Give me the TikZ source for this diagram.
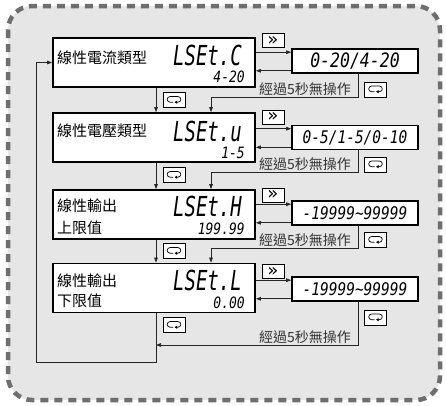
\documentclass[tikz,border=0pt]{standalone}
\usepackage{fontspec}
\newfontfamily\cjk{Noto Sans CJK TC}
\newfontfamily\segfont{DejaVu Sans Mono}
\newfontfamily\keyfont{DejaVu Sans}
\usetikzlibrary{arrows.meta}
\definecolor{panelgray}{HTML}{E6E6E6}
\definecolor{framegray}{HTML}{6E6E6E}
\newcommand{\tall}[2][1.2]{\scalebox{1}[#1]{#2}}
\newcommand{\retkey}{\tikz[x=1pt,y=1pt,line width=0.7pt,baseline=-3pt]{\draw[-{Triangle[length=2.6pt,width=3.2pt]}] (-1,-2.8) -- (-4,-2.8) arc[start angle=270,end angle=90,radius=2.8] -- (4,2.8) arc[start angle=90,end angle=-90,radius=2.8] -- (0.6,-2.8);}}
\newcommand{\nextkey}{\raisebox{-1.5pt}{\keyfont\fontsize{18}{18}\selectfont »}}
\tikzset{
  frame/.style={draw=framegray, line width=4.5pt, dash pattern=on 8pt off 6pt, fill=panelgray, rounded corners=24pt},
  modebox/.style={draw, line width=1.8pt, fill=white, minimum width=202pt, minimum height=49pt, inner sep=0pt},
  valbox/.style={draw, line width=1.6pt, fill=white, minimum width=126pt, minimum height=24pt, inner sep=0pt},
  keybox/.style={draw, line width=0.9pt, fill=white, minimum width=22pt, minimum height=15pt, inner sep=0pt},
  flow/.style={draw=black!85, line width=0.7pt},
  modetext/.style={font=\cjk\fontsize{15}{18}\selectfont, inner sep=0pt, anchor=west},
  idletext/.style={font=\cjk\fontsize{14}{16}\selectfont, inner sep=1pt, anchor=south east, text=black!80},
  lcd/.style={font=\segfont\itshape\fontsize{19}{19}\selectfont, inner sep=0pt, anchor=east},
  lcdsub/.style={font=\segfont\itshape\fontsize{13}{13}\selectfont, inner sep=0pt, anchor=east},
  lcdval/.style={font=\segfont\itshape\fontsize{14.5}{15}\selectfont, inner sep=0pt}
}
\begin{document}
\begin{tikzpicture}[x=1pt, y=-1pt, >={Triangle[length=5pt,width=3.6pt]}]
\useasboundingbox (0,0) rectangle (446,405);

%% panel
\draw[frame] (8,6) rectangle (440,400);

%% mode boxes
\node[modebox] (m1) at (154,62.5) {};
\node[modebox] (m2) at (154,137.5) {};
\node[modebox] (m3) at (154,214.5) {};
\node[modebox] (m4) at (154,288) {};

\node[modetext] (n1) at (57,58) {線性電流類型};
\node[modetext] (n2) at (57,131) {線性電壓類型};
\node[modetext] (n3) at (57,206) {線性輸出};
\node[modetext] (n3b) at (57,228) {上限值};
\node[modetext] (n4) at (57,281) {線性輸出};
\node[modetext] (n4b) at (57,301) {下限值};

\node[lcd] (lcd1) at (242,55) {\tall[1.45]{LSEt.C}};
\node[lcd] (lcd2) at (242,131) {\tall[1.45]{LSEt.u}};
\node[lcd] (lcd3) at (242,206) {\tall[1.45]{LSEt.H}};
\node[lcd] (lcd4) at (242,280) {\tall[1.45]{LSEt.L}};

\node[lcdsub] (sub1) at (245,77) {\tall{4-20}};
\node[lcdsub] (sub2) at (245,153) {\tall{1-5}};
\node[lcdsub] (sub3) at (245,229) {\tall{199.99}};
\node[lcdsub] (sub4) at (245,303) {\tall{0.00}};

%% value boxes
\node[valbox, lcdval, font=\segfont\itshape\fontsize{16.5}{17}\selectfont] (v1) at (355,61) {\tall{0-20/4-20}};
\node[valbox, lcdval] (v2) at (355,137.5) {\tall{0-5/1-5/0-10}};
\node[valbox, lcdval] (v3) at (355,213) {\tall{-19999\textasciitilde99999}};
\node[valbox, lcdval] (v4) at (355,289) {\tall{-19999\textasciitilde99999}};

%% keys
\node[keybox, minimum height=14pt] (k1) at (273,40.5) {\nextkey};
\node[keybox, minimum height=14pt] (k2) at (273,117) {\nextkey};
\node[keybox, minimum height=14pt] (k3) at (273,195) {\nextkey};
\node[keybox, minimum height=14pt] (k4) at (273,271.5) {\nextkey};

\node[keybox] (r1) at (174,100) {\retkey};
\node[keybox] (r2) at (174,175) {\retkey};
\node[keybox] (r3) at (174,251) {\retkey};
\node[keybox] (r4) at (174,325) {\retkey};

\node[keybox] (s1) at (375.5,89.5) {\retkey};
\node[keybox] (s2) at (375.5,164.5) {\retkey};
\node[keybox] (s3) at (375.5,240) {\retkey};
\node[keybox] (s4) at (375.5,317.5) {\retkey};

%% enter / leave value
\coordinate (in1) at ([yshift=-4pt]v1.north west);
\coordinate (out1) at ([yshift=3pt]v1.south west);
\coordinate (in2) at ([yshift=-4pt]v2.north west);
\coordinate (out2) at ([yshift=3pt]v2.south west);
\coordinate (in3) at ([yshift=-4pt]v3.north west);
\coordinate (out3) at ([yshift=3pt]v3.south west);
\coordinate (in4) at ([yshift=-4pt]v4.north west);
\coordinate (out4) at ([yshift=3pt]v4.south west);

\draw[flow,->] (m1.east |- in1) -- (in1);
\draw[flow,->] (out1) -- (m1.east |- out1);
\draw[flow,->] (m2.east |- in2) -- (in2);
\draw[flow,->] (out2) -- (m2.east |- out2);
\draw[flow,->] (m3.east |- in3) -- (in3);
\draw[flow,->] (out3) -- (m3.east |- out3);
\draw[flow,->] (m4.east |- in4) -- (in4);
\draw[flow,->] (out4) -- (m4.east |- out4);

%% timeout paths
\coordinate (turn1) at (358,97);
\coordinate (turn2) at (358,172);
\coordinate (turn3) at (358,248);
\coordinate (turn4) at (358,345);
\coordinate (drop1) at (211,97);
\coordinate (drop2) at (211,172);
\coordinate (drop3) at (211,248);
\coordinate (drop4) at (156,345);

\draw[flow,->] (v1.south -| turn1) -- (turn1) -- (drop1) -- (m2.north -| drop1);
\draw[flow,->] (v2.south -| turn2) -- (turn2) -- (drop2) -- (m3.north -| drop2);
\draw[flow,->] (v3.south -| turn3) -- (turn3) -- (drop3) -- (m4.north -| drop3);
\draw[flow,->] (v4.south -| turn4) -- (turn4) -- (drop4);

\node[idletext] (w1) at ([xshift=-6pt]turn1) {經過5秒無操作};
\node[idletext] (w2) at ([xshift=-6pt]turn2) {經過5秒無操作};
\node[idletext] (w3) at ([xshift=-6pt]turn3) {經過5秒無操作};
\node[idletext] (w4) at ([xshift=-6pt]turn4) {經過5秒無操作};

%% main chain
\draw[flow,->] ([xshift=2pt]m1.south) -- ([xshift=2pt]m2.north);
\draw[flow,->] ([xshift=2pt]m2.south) -- ([xshift=2pt]m3.north);
\draw[flow,->] ([xshift=2pt]m3.south) -- ([xshift=2pt]m4.north);

\coordinate (loop1) at (156,362);
\coordinate (loop2) at (36,362);
\draw[flow,->] ([xshift=2pt]m4.south) -- (loop1) -- (loop2) |- (m1.west);
\end{tikzpicture}
\end{document}
